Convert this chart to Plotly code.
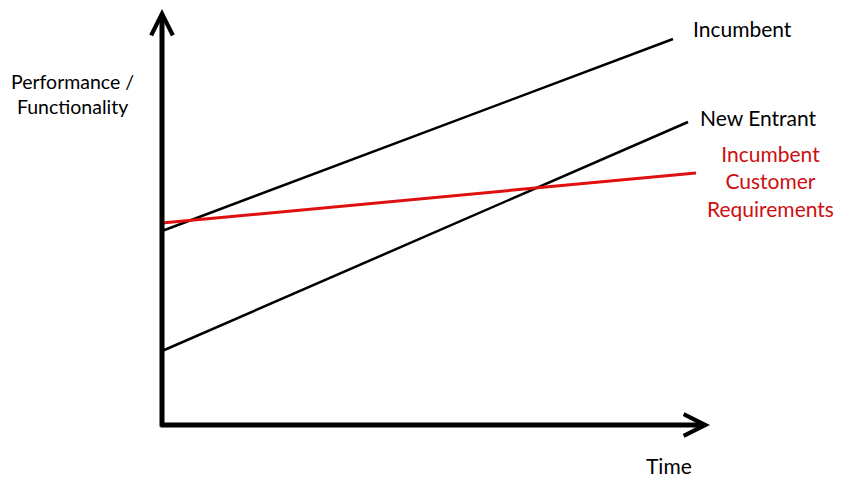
import plotly.graph_objects as go

# values in chart units (origin of the axes at 0,0)
series = ["Incumbent", "New Entrant", "Incumbent Customer Requirements"]
time_start = [0, 0, 0]
time_end = [511, 526, 534]
perf_start = [194, 74, 202]
perf_end = [386, 303, 252]
colors = ["black", "black", "#e01010"]
widths = [2.5, 2.5, 3]

x_axis_end = 548
y_axis_end = 416

fig = go.Figure()
for name, x0, x1, y0, y1, c, w in zip(series, time_start, time_end, perf_start, perf_end, colors, widths):
    fig.add_trace(go.Scatter(x=[x0, x1], y=[y0, y1], mode="lines", name=name,
                             line=dict(color=c, width=w), showlegend=False, hoverinfo="skip"))

# axes drawn as thick arrows
fig.add_annotation(x=0, y=y_axis_end, ax=0, ay=-3, xref="x", yref="y", axref="x", ayref="y",
                   text="", showarrow=True, arrowhead=5, arrowwidth=5, arrowsize=0.85, arrowcolor="black")
fig.add_annotation(x=x_axis_end, y=0, ax=-3, ay=0, xref="x", yref="y", axref="x", ayref="y",
                   text="", showarrow=True, arrowhead=5, arrowwidth=5, arrowsize=0.85, arrowcolor="black")

font = dict(family="Lato", size=21, color="black")
fig.add_annotation(x=529, y=397, text="Incumbent", showarrow=False, xanchor="left", font=font)
fig.add_annotation(x=536, y=308, text="New Entrant", showarrow=False, xanchor="left", font=font)
fig.add_annotation(x=608, y=244, text="Incumbent<br>Customer<br>Requirements", showarrow=False,
                   xanchor="center", yanchor="middle", font=dict(family="Lato", size=21, color="#cc1010"))
fig.add_annotation(x=-153, y=331, text="Performance /<br>Functionality", showarrow=False,
                   xanchor="left", align="center", font=dict(family="Lato", size=19.5, color="black"))
fig.add_annotation(x=507, y=-40, text="Time", showarrow=False, xanchor="center", font=font)

# the page body adds an 8px margin, so the ranges are shifted to compensate
fig.update_xaxes(range=[-154, 707], visible=False, fixedrange=True)
fig.update_yaxes(range=[-70, 417], visible=False, fixedrange=True)
fig.update_layout(width=861, height=487, margin=dict(l=0, r=0, t=0, b=0),
                  plot_bgcolor="white", paper_bgcolor="white")

fig.write_html("out.html")
